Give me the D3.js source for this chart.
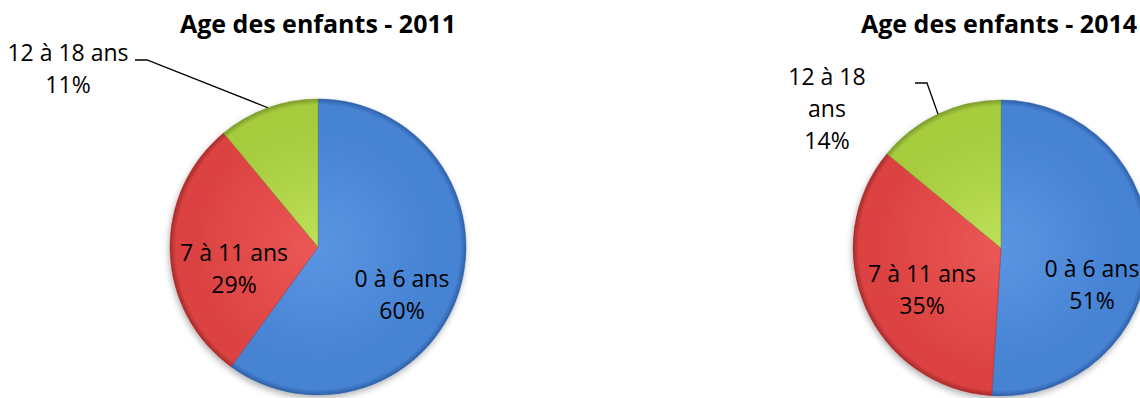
<!DOCTYPE html>
<html>
<head>
<meta charset="utf-8">
<script src="https://cdn.jsdelivr.net/npm/d3@7"></script>
<style>
  html, body { margin: 0; padding: 0; background: #fff; }
  svg { display: block; font-family: "Open Sans", sans-serif; }
</style>
</head>
<body>
<svg id="chart" width="1140" height="398"></svg>
<script>
const categories = ["0 à 6 ans", "7 à 11 ans", "12 à 18 ans"];
const values2011 = [60, 29, 11];
const values2014 = [51, 35, 14];
const titles = ["Age des enfants - 2011", "Age des enfants - 2014"];

const colors = {
  "0 à 6 ans": { light: "#5a95e2", base: "#4683d3", dark: "#2f60a8" },
  "7 à 11 ans": { light: "#ec5856", base: "#dc4342", dark: "#a82a2a" },
  "12 à 18 ans": { light: "#bde058", base: "#a6cb3e", dark: "#7a9a28" }
};

const svg = d3.select("#chart");
const radius = 148;
const lineGap = 32;

// label placement, relative to each pie's centre (first baseline)
const layouts = [
  {
    cx: 318, cy: 247, title: titles[0], values: values2011,
    inside: [[84, 40], [-84, 14]],
    outside: { elbow: [-171, -187], text: [-250, -186], lines: ["12 à 18 ans"] }
  },
  {
    cx: 1001, cy: 248, title: titles[1], values: values2014,
    inside: [[91, 29], [-79, 34]],
    outside: { elbow: [-74, -165], text: [-174, -163], lines: ["12 à 18", "ans"] }
  }
];

const defs = svg.append("defs");

const shadow = defs.append("filter")
  .attr("id", "shadow")
  .attr("x", "-20%").attr("y", "-20%")
  .attr("width", "140%").attr("height", "140%");
shadow.append("feGaussianBlur").attr("in", "SourceAlpha").attr("stdDeviation", 3);
shadow.append("feOffset").attr("dx", -1).attr("dy", 3).attr("result", "blur");
shadow.append("feComponentTransfer").append("feFuncA").attr("type", "linear").attr("slope", 0.3);
const merge = shadow.append("feMerge");
merge.append("feMergeNode");
merge.append("feMergeNode").attr("in", "SourceGraphic");

const pie = d3.pie().sort(null).value(d => d.value);
const arc = d3.arc().innerRadius(0).outerRadius(radius);

layouts.forEach((L, k) => {
  const data = categories.map((c, i) => ({ cat: c, value: L.values[i] }));
  const arcs = pie(data);

  categories.forEach((c, i) => {
    const g = defs.append("radialGradient")
      .attr("id", `grad-${k}-${i}`)
      .attr("gradientUnits", "userSpaceOnUse")
      .attr("cx", 0).attr("cy", 0).attr("r", radius);
    g.append("stop").attr("offset", "0%").attr("stop-color", colors[c].light);
    g.append("stop").attr("offset", "80%").attr("stop-color", colors[c].base);
    g.append("stop").attr("offset", "96%").attr("stop-color", colors[c].base);
    g.append("stop").attr("offset", "100%").attr("stop-color", colors[c].dark);
  });

  const g = svg.append("g")
    .attr("transform", `translate(${L.cx}, ${L.cy})`);

  g.append("text")
    .attr("x", -2 * k)
    .attr("y", 33 - L.cy)
    .attr("text-anchor", "middle")
    .attr("font-size", "25px")
    .attr("font-weight", "bold")
    .attr("fill", "#000")
    .text(L.title);

  g.append("g")
    .attr("filter", "url(#shadow)")
    .selectAll("path")
    .data(arcs)
    .enter()
    .append("path")
    .attr("d", arc)
    .attr("fill", (d, i) => `url(#grad-${k}-${i})`)
    .attr("stroke", (d) => colors[d.data.cat].dark)
    .attr("stroke-opacity", 0.6)
    .attr("stroke-width", 0.8);

  // inside labels for the two big slices
  arcs.slice(0, 2).forEach((d, i) => {
    const [x, y] = L.inside[i];
    const t = g.append("text")
      .attr("text-anchor", "middle")
      .attr("font-size", "23px")
      .attr("fill", "#000");
    t.append("tspan").attr("x", x).attr("y", y).text(d.data.cat);
    t.append("tspan").attr("x", x).attr("y", y + lineGap).text(`${d.data.value}%`);
  });

  // outside label with leader line for the small slice
  const small = arcs[2];
  const mid = (small.startAngle + small.endAngle) / 2;
  const edge = [Math.sin(mid) * radius, -Math.cos(mid) * radius];
  const o = L.outside;
  const hx = o.elbow[0] - 12;
  g.append("polyline")
    .attr("points", [edge, o.elbow, [hx, o.elbow[1]]].map(p => p.join(",")).join(" "))
    .attr("fill", "none")
    .attr("stroke", "#000")
    .attr("stroke-width", 1.3);

  const lines = o.lines.concat([`${small.data.value}%`]);
  const t = g.append("text")
    .attr("text-anchor", "middle")
    .attr("font-size", "23px")
    .attr("fill", "#000");
  lines.forEach((s, i) => {
    t.append("tspan")
      .attr("x", o.text[0])
      .attr("y", o.text[1] + i * lineGap)
      .text(s);
  });
});
</script>
</body>
</html>
